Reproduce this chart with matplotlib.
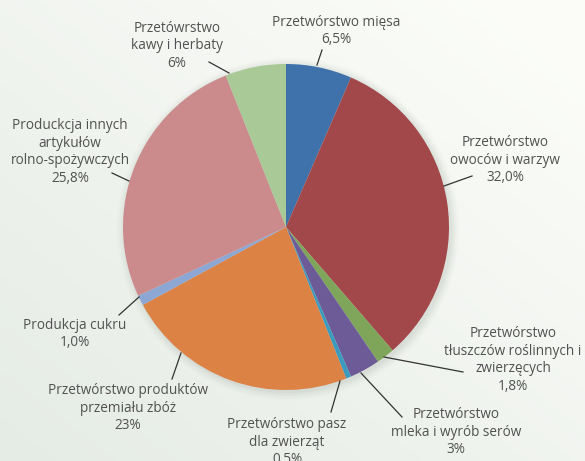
import numpy as np
import matplotlib
matplotlib.use("Agg")
import matplotlib.pyplot as plt

categories = [
    "Przetwórstwo mięsa\n6,5%",
    "Przetwórstwo\nowoców i warzyw\n32,0%",
    "Przetwórstwo\ntłuszczów roślinnych i\nzwierzęcych\n1,8%",
    "Przetwórstwo\nmleka i wyrób serów\n3%",
    "Przetwórstwo pasz\ndla zwierząt\n0,5%",
    "Przetwórstwo produktów\nprzemiału zbóż\n23%",
    "Produkcja cukru\n1,0%",
    "Produckcja innych\nartykułów\nrolno-spożywczych\n25,8%",
    "Przetówrstwo\nkawy i herbaty\n6%",
]
values = [6.5, 32.0, 1.8, 3.0, 0.5, 23.0, 1.0, 25.8, 6.0]
colors = ["#3F71AA", "#A3484A", "#7EA55A", "#6D5B97", "#3B9BBE",
          "#DB8244", "#8DA7D5", "#CB8B8C", "#A9C996"]

# layout (pixel coords, y from top)
W, H = 585, 461
cx, cy, R = 286, 227, 163
label_xy = [(336, 31), (505, 160), (513, 360), (456, 432), (287, 442),
            (128, 408), (75, 334), (70, 152), (177, 46)]
leader_out = [(322, 50), (472, 176), (463, 372), (402, 417), (331, 412),
              (172, 379), (119, 315), (112, 173), (209, 62)]
leader_in = [(317, 65), (444, 186), (384, 357), (361, 373), (340, 381),
             (181, 353), (139, 297), (129, 181), (229, 73)]

fig = plt.figure(figsize=(W / 100, H / 100), dpi=100)
ax = fig.add_axes([0, 0, 1, 1])

# background gradient
xx, yy = np.meshgrid(np.linspace(0, 1, 200), np.linspace(0, 1, 160))
t = np.clip(0.55 * xx + 0.55 * yy, 0, 1)
c0 = np.array([0.898, 0.922, 0.898])
c1 = np.array([0.985, 0.990, 0.975])
img = c0[None, None, :] * (1 - t[..., None]) + c1[None, None, :] * t[..., None]
ax.imshow(img, extent=[0, W, H, 0], origin="upper", aspect="auto", zorder=0)

# soft shadow
for i, a in enumerate(np.linspace(0.05, 0.012, 6)):
    circ = plt.Circle((cx + 2, H - cy - 2), R + 1 + i * 1.5, color="#7a857a",
                      alpha=a, lw=0, zorder=1)
    ax.add_patch(circ)

wedges, _ = ax.pie(values, colors=colors, startangle=90, counterclock=False,
                   center=(cx, H - cy), radius=R, frame=True,
                   wedgeprops=dict(linewidth=0, zorder=2))
for w in wedges:
    w.set_zorder(2)
ax.set_xlim(0, W)
ax.set_ylim(0, H)
ax.set_aspect("auto")
ax.axis("off")

for i in range(len(values)):
    xi, yi = leader_in[i]
    xo, yo = leader_out[i]
    ax.plot([xi, xo], [H - yi, H - yo], color="#333333", lw=0.9, zorder=3)
    lx, ly = label_xy[i]
    ax.text(lx, H - ly, categories[i], ha="center", va="center", fontsize=9.8,
            color="#525252", family="Open Sans", linespacing=1.22, zorder=4)

fig.savefig("out.png", dpi=100)
